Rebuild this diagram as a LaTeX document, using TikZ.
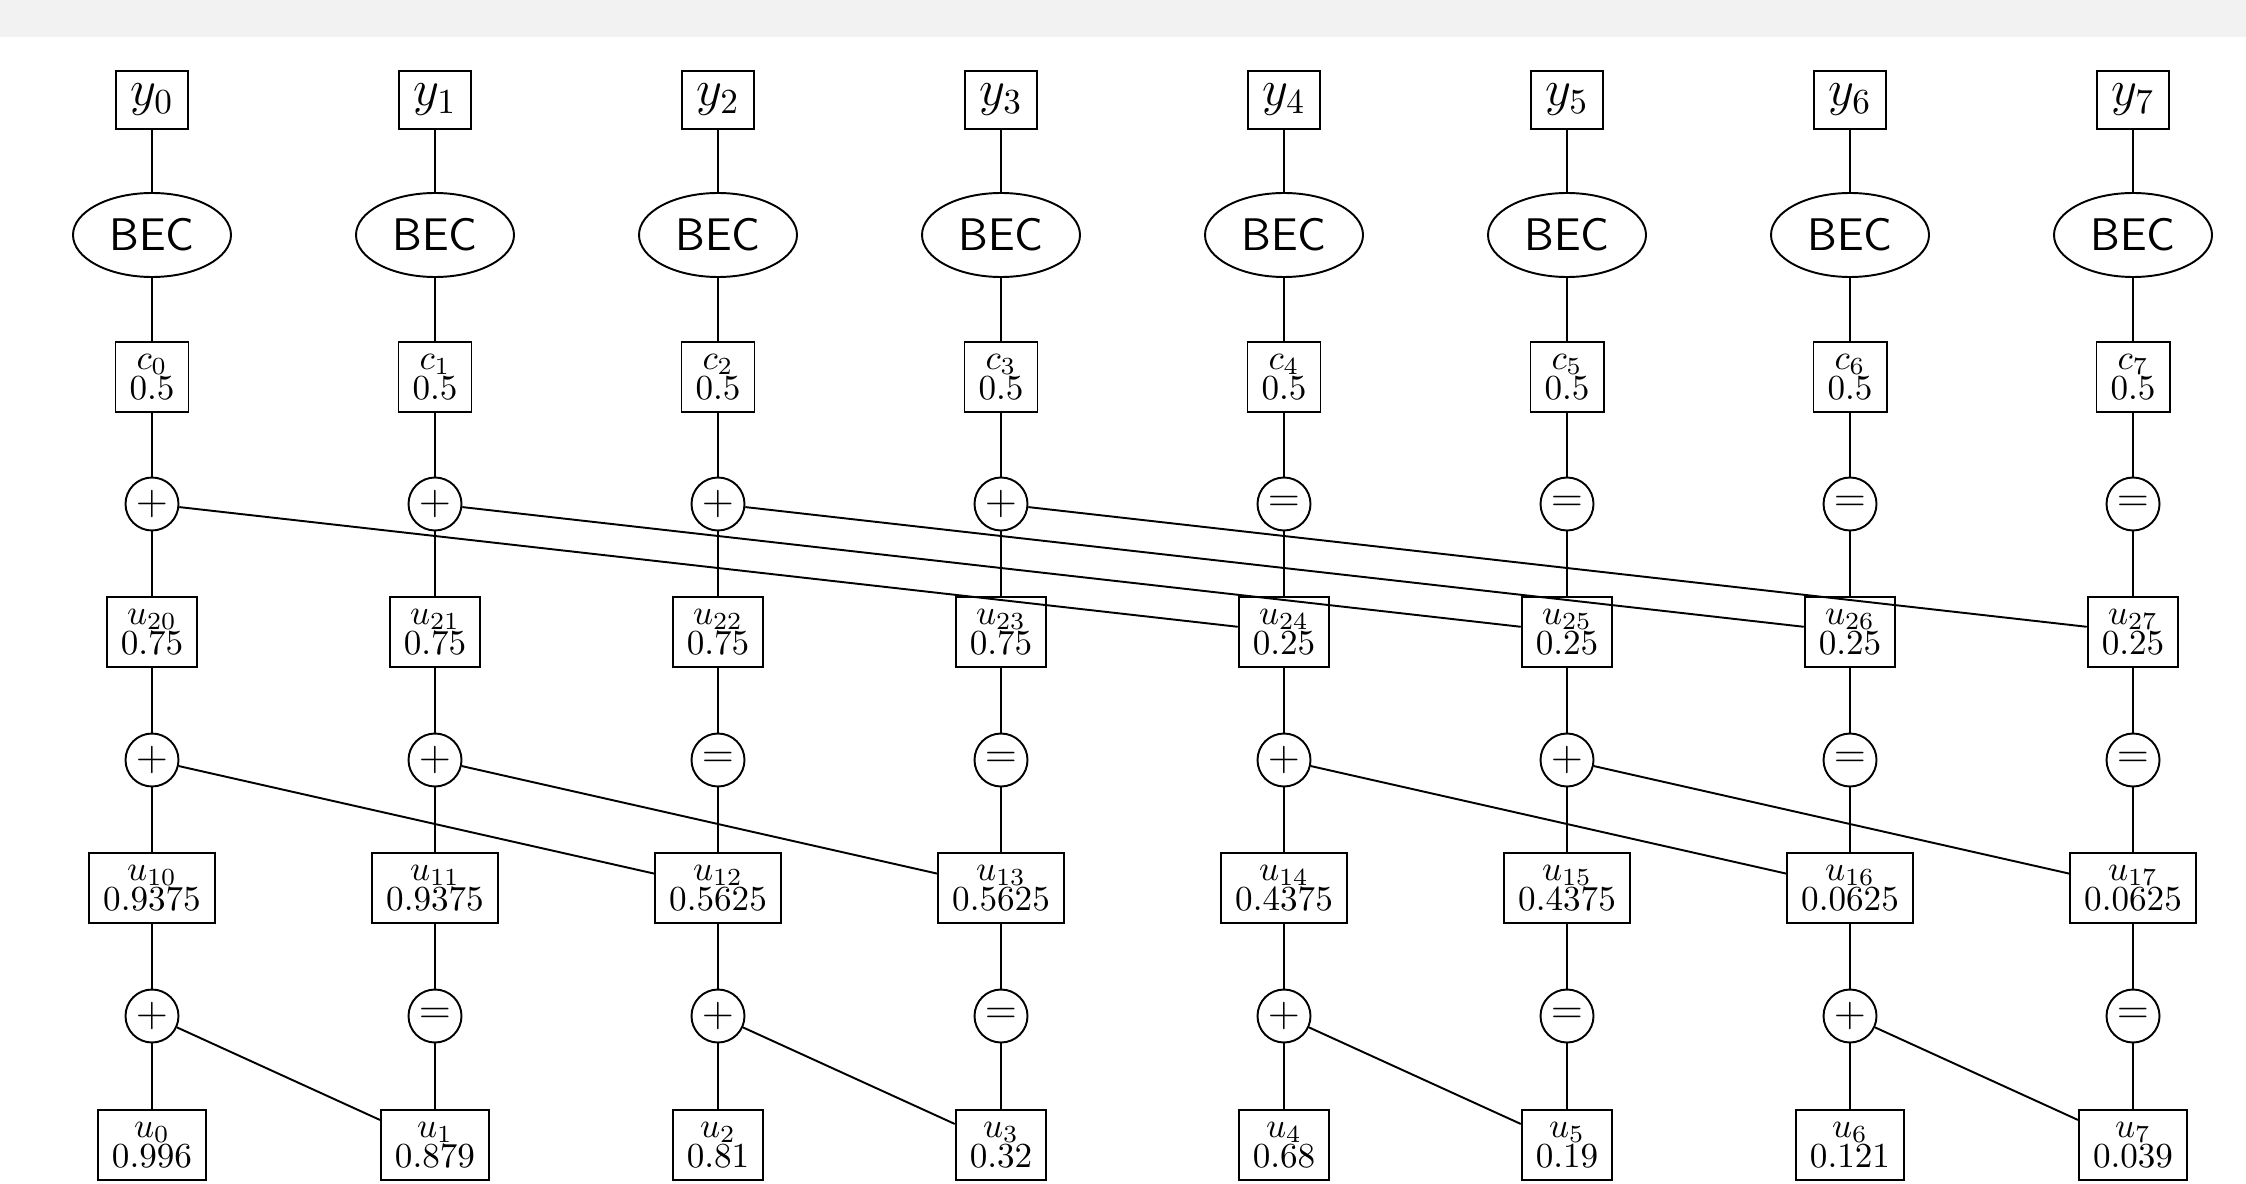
\documentclass[tikz,border=0pt]{standalone}
\usepackage{amssymb}
\usepackage{tikz}
\usetikzlibrary{shapes,arrows,positioning,calc}

\begin{document}
\begin{tikzpicture}[line width=0.55pt,
  vbox/.style={draw,rectangle,align=center,inner xsep=4pt,inner ysep=3.6pt,font=\fontsize{10}{8.6}\selectfont},
  ybox/.style={draw,rectangle,inner xsep=4pt,inner ysep=3.8pt,font=\Large},
  bec/.style={draw,ellipse,inner sep=0pt,minimum width=1.58cm,minimum height=0.84cm,font=\fontsize{13}{15}\selectfont\sffamily},
  opnode/.style={draw,circle,inner sep=0pt,minimum size=0.53cm,font=\large}]
\useasboundingbox (0,0) rectangle (22.46,-11.84);
\fill[black!5] (0,0) rectangle (22.46,-0.375);
% received symbols
\node[ybox] (y0) at (1.52,-1.00) {$y_0$};
\node[ybox] (y1) at (4.35,-1.00) {$y_1$};
\node[ybox] (y2) at (7.18,-1.00) {$y_2$};
\node[ybox] (y3) at (10.01,-1.00) {$y_3$};
\node[ybox] (y4) at (12.84,-1.00) {$y_4$};
\node[ybox] (y5) at (15.67,-1.00) {$y_5$};
\node[ybox] (y6) at (18.50,-1.00) {$y_6$};
\node[ybox] (y7) at (21.33,-1.00) {$y_7$};
% channels
\node[bec] (bec0) at (1.52,-2.35) {BEC};
\node[bec] (bec1) at (4.35,-2.35) {BEC};
\node[bec] (bec2) at (7.18,-2.35) {BEC};
\node[bec] (bec3) at (10.01,-2.35) {BEC};
\node[bec] (bec4) at (12.84,-2.35) {BEC};
\node[bec] (bec5) at (15.67,-2.35) {BEC};
\node[bec] (bec6) at (18.50,-2.35) {BEC};
\node[bec] (bec7) at (21.33,-2.35) {BEC};
% codeword bits
\node[vbox] (c0) at (1.52,-3.77) {$c_0$\\$0.5$};
\node[vbox] (c1) at (4.35,-3.77) {$c_1$\\$0.5$};
\node[vbox] (c2) at (7.18,-3.77) {$c_2$\\$0.5$};
\node[vbox] (c3) at (10.01,-3.77) {$c_3$\\$0.5$};
\node[vbox] (c4) at (12.84,-3.77) {$c_4$\\$0.5$};
\node[vbox] (c5) at (15.67,-3.77) {$c_5$\\$0.5$};
\node[vbox] (c6) at (18.50,-3.77) {$c_6$\\$0.5$};
\node[vbox] (c7) at (21.33,-3.77) {$c_7$\\$0.5$};
% third stage
\node[opnode] (op20) at (1.52,-5.04) {$+$};
\node[opnode] (op21) at (4.35,-5.04) {$+$};
\node[opnode] (op22) at (7.18,-5.04) {$+$};
\node[opnode] (op23) at (10.01,-5.04) {$+$};
\node[opnode] (op24) at (12.84,-5.04) {$=$};
\node[opnode] (op25) at (15.67,-5.04) {$=$};
\node[opnode] (op26) at (18.50,-5.04) {$=$};
\node[opnode] (op27) at (21.33,-5.04) {$=$};
\node[vbox] (u20) at (1.52,-6.32) {$u_{20}$\\$0.75$};
\node[vbox] (u21) at (4.35,-6.32) {$u_{21}$\\$0.75$};
\node[vbox] (u22) at (7.18,-6.32) {$u_{22}$\\$0.75$};
\node[vbox] (u23) at (10.01,-6.32) {$u_{23}$\\$0.75$};
\node[vbox] (u24) at (12.84,-6.32) {$u_{24}$\\$0.25$};
\node[vbox] (u25) at (15.67,-6.32) {$u_{25}$\\$0.25$};
\node[vbox] (u26) at (18.50,-6.32) {$u_{26}$\\$0.25$};
\node[vbox] (u27) at (21.33,-6.32) {$u_{27}$\\$0.25$};
% second stage
\node[opnode] (op10) at (1.52,-7.60) {$+$};
\node[opnode] (op11) at (4.35,-7.60) {$+$};
\node[opnode] (op12) at (7.18,-7.60) {$=$};
\node[opnode] (op13) at (10.01,-7.60) {$=$};
\node[opnode] (op14) at (12.84,-7.60) {$+$};
\node[opnode] (op15) at (15.67,-7.60) {$+$};
\node[opnode] (op16) at (18.50,-7.60) {$=$};
\node[opnode] (op17) at (21.33,-7.60) {$=$};
\node[vbox] (u10) at (1.52,-8.88) {$u_{10}$\\$0.9375$};
\node[vbox] (u11) at (4.35,-8.88) {$u_{11}$\\$0.9375$};
\node[vbox] (u12) at (7.18,-8.88) {$u_{12}$\\$0.5625$};
\node[vbox] (u13) at (10.01,-8.88) {$u_{13}$\\$0.5625$};
\node[vbox] (u14) at (12.84,-8.88) {$u_{14}$\\$0.4375$};
\node[vbox] (u15) at (15.67,-8.88) {$u_{15}$\\$0.4375$};
\node[vbox] (u16) at (18.50,-8.88) {$u_{16}$\\$0.0625$};
\node[vbox] (u17) at (21.33,-8.88) {$u_{17}$\\$0.0625$};
% first stage
\node[opnode] (op00) at (1.52,-10.16) {$+$};
\node[opnode] (op01) at (4.35,-10.16) {$=$};
\node[opnode] (op02) at (7.18,-10.16) {$+$};
\node[opnode] (op03) at (10.01,-10.16) {$=$};
\node[opnode] (op04) at (12.84,-10.16) {$+$};
\node[opnode] (op05) at (15.67,-10.16) {$=$};
\node[opnode] (op06) at (18.50,-10.16) {$+$};
\node[opnode] (op07) at (21.33,-10.16) {$=$};
\node[vbox] (u0) at (1.52,-11.45) {$u_0$\\$0.996$};
\node[vbox] (u1) at (4.35,-11.45) {$u_1$\\$0.879$};
\node[vbox] (u2) at (7.18,-11.45) {$u_2$\\$0.81$};
\node[vbox] (u3) at (10.01,-11.45) {$u_3$\\$0.32$};
\node[vbox] (u4) at (12.84,-11.45) {$u_4$\\$0.68$};
\node[vbox] (u5) at (15.67,-11.45) {$u_5$\\$0.19$};
\node[vbox] (u6) at (18.50,-11.45) {$u_6$\\$0.121$};
\node[vbox] (u7) at (21.33,-11.45) {$u_7$\\$0.039$};
% columns
\draw (y0) -- (bec0) -- (c0) -- (op20) -- (u20) -- (op10) -- (u10) -- (op00) -- (u0);
\draw (y1) -- (bec1) -- (c1) -- (op21) -- (u21) -- (op11) -- (u11) -- (op01) -- (u1);
\draw (y2) -- (bec2) -- (c2) -- (op22) -- (u22) -- (op12) -- (u12) -- (op02) -- (u2);
\draw (y3) -- (bec3) -- (c3) -- (op23) -- (u23) -- (op13) -- (u13) -- (op03) -- (u3);
\draw (y4) -- (bec4) -- (c4) -- (op24) -- (u24) -- (op14) -- (u14) -- (op04) -- (u4);
\draw (y5) -- (bec5) -- (c5) -- (op25) -- (u25) -- (op15) -- (u15) -- (op05) -- (u5);
\draw (y6) -- (bec6) -- (c6) -- (op26) -- (u26) -- (op16) -- (u16) -- (op06) -- (u6);
\draw (y7) -- (bec7) -- (c7) -- (op27) -- (u27) -- (op17) -- (u17) -- (op07) -- (u7);
% cross links
\draw (op20) -- (u24);
\draw (op21) -- (u25);
\draw (op22) -- (u26);
\draw (op23) -- (u27);
\draw (op10) -- (u12);
\draw (op11) -- (u13);
\draw (op14) -- (u16);
\draw (op15) -- (u17);
\draw (op00) -- (u1);
\draw (op02) -- (u3);
\draw (op04) -- (u5);
\draw (op06) -- (u7);
\end{tikzpicture}
\end{document}
